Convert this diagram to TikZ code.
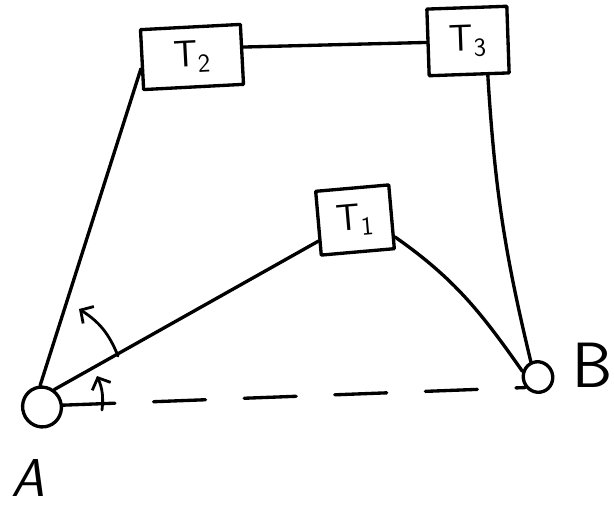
\documentclass[tikz,border=0pt]{standalone}
\usetikzlibrary{shapes.geometric,arrows.meta}
\begin{document}
\begin{tikzpicture}[x=0.75pt,y=-0.75pt,
  line width=2.5pt, line cap=round, line join=round,
  tbox/.style={draw, rectangle, inner sep=0pt, font=\sffamily\fontsize{28}{32}\selectfont},
  station/.style={draw, ellipse, inner sep=0pt},
  lab/.style={font=\sffamily\fontsize{40}{46}\selectfont},
  conn/.style={draw},
  dashline/.style={draw, dash pattern=on 39pt off 29pt},
  anglearc/.style={draw, line width=2.1pt, -{Straight Barb[length=7pt,width=15pt]}}]
\useasboundingbox (0,0) rectangle (614,507);
\fill[white] (0,0) rectangle (614,507);
% boxes
\node[tbox, minimum width=75pt, minimum height=45pt, rotate=3] (T2) at (192,57) {T\textsubscript{2}};
\node[tbox, minimum width=60pt, minimum height=50pt, rotate=2] (T3) at (468,41) {T\textsubscript{3}};
\node[tbox, minimum width=55pt, minimum height=48pt, rotate=5] (T1) at (355,220) {T\textsubscript{1}};
% stations
\node[station, minimum width=29pt, minimum height=30pt, rotate=20] (A) at (42,407) {};
\node[station, minimum width=22pt, minimum height=23pt, rotate=20] (B) at (538,377) {};
% labels
\node[lab, font=\sffamily\slshape\fontsize{40}{46}\selectfont] (labA) at (28,478) {A};
\node[lab, font=\sffamily\fontsize{48}{54}\selectfont] (labB) at (593,365) {B};
% connectors
\draw[conn] (T2.8) -- (T3.west);
\draw[conn] (T2.190) -- (A.75);
\draw[conn] (A.35) -- (T1.205);
\draw[conn] (T1.-28) to[out=-35,in=125] (B.140);
\draw[conn] (T3.-62) to[bend right=5] (B.95);
\draw[dashline] (A.-15) -- (B.200);
% angle arcs
\coordinate (s1) at (102,410);
\coordinate (s2) at (97,376);
\coordinate (l1) at (118,356);
\coordinate (l2) at (79,309);
\draw[anglearc] (s1) to[bend right=15] (s2);
\draw[anglearc] (l1) to[bend right=18] (l2);
\end{tikzpicture}
\end{document}
